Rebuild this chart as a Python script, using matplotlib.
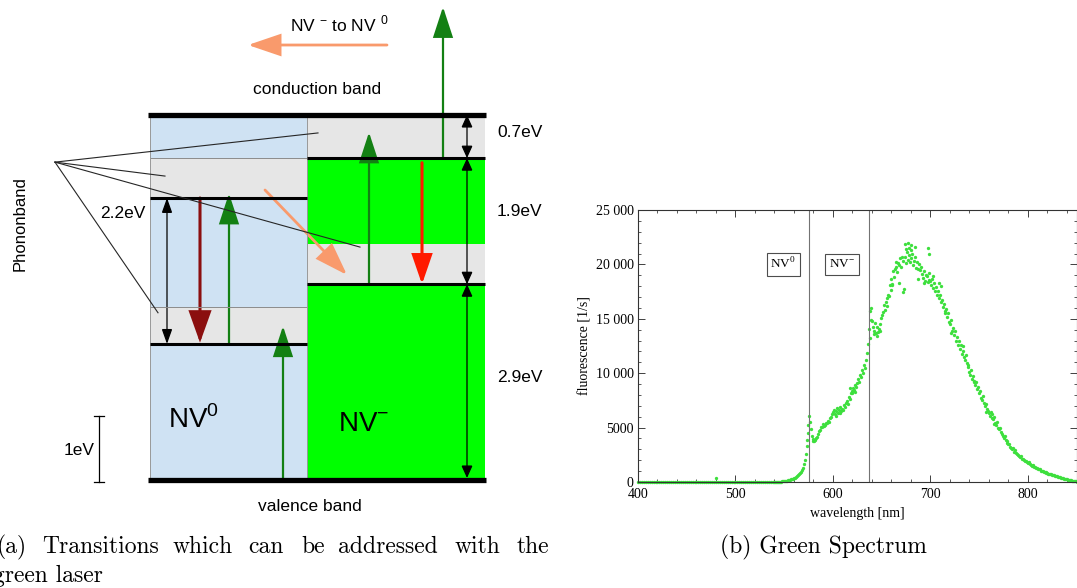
import numpy as np
import matplotlib
matplotlib.use("Agg")
import matplotlib.pyplot as plt
from matplotlib.patches import FancyArrowPatch
from matplotlib.ticker import MultipleLocator, FuncFormatter

plt.rcParams['font.family'] = ['Liberation Serif', 'DejaVu Serif']
plt.rcParams['mathtext.fontset'] = 'custom'
plt.rcParams['mathtext.rm'] = 'Liberation Serif'
plt.rcParams['mathtext.sf'] = 'Liberation Sans'

# ---------------- energy diagram data (eV above valence band) ----------------
e_vb, e_cb = 0.0, 5.5
nv0_ground, nv0_excited = 2.05, 4.25
nv0_phonon_tops = [2.6, 4.85]       # phonon bands above each NV0 level
nvm_ground, nvm_excited = 2.95, 4.85
nvm_phonon_tops = [3.55, 5.5]
gap_labels = ["0.7eV", "1.9eV", "2.9eV"]

# ---------------- spectrum data ----------------
base_wl = list(range(400, 540, 2))
base_counts = [0, 0, 0, 0, 0, 0, 0, 0, 0, 0,
               0, 0, 0, 0, 0, 0, 0, 0, 0, 0,
               0, 0, 0, 0, 0, 0, 0, 0, 0, 0,
               0, 0, 0, 0, 0, 0, 0, 0, 0, 0,
               0, 0, 0, 0, 0, 0, 0, 0, 0, 0,
               0, 0, 0, 0, 0, 0, 0, 0, 0, 0,
               0, 0, 0, 0, 0, 0, 0, 0, 0, 0]
spec_start = 540   # nm, 1 nm per value
counts = [
    0, 15, 5, 20, 10, 35, 25, 45, 50, 65,
    80, 100, 105, 135, 150, 175, 215, 235, 285, 305,
    350, 410, 460, 545, 600, 710, 790, 930, 1090, 1320,
    1620, 1980, 2550, 3300, 4500, 6050, 5550, 4900, 4250, 3950,
    3800, 3780, 3880, 4080, 4150, 4420, 4650, 4820, 5080, 5060,
    5320, 5180, 5260, 5450, 5380, 5620, 5560, 5900, 5980, 6250,
    6400, 6650, 6280, 6520, 6800, 6350, 6600, 6850, 6500, 6700,
    6650, 7050, 6900, 7250, 7400, 7150, 7850, 7600, 8150, 8350,
    8200, 8600, 8450, 8950, 8700, 9100, 9450, 9150, 9850, 9650,
    10250, 10050, 10750, 10450, 11250, 11900, 12700, 14100, 15700, 14900,
    14800, 14250, 13900, 14600, 13650, 14250, 13800, 14050, 14500, 15100,
    15350, 15600, 16250, 15800, 16500, 16950, 17200, 17050, 18150, 17650,
    18700, 18200, 19350, 18800, 19550, 20250, 19300, 20100, 19900, 20550,
    19800, 20700, 20300, 17700, 20650, 20100, 21100, 20400, 20850, 20250,
    20600, 21000, 19900, 20350, 20700, 19700, 20200, 19550, 20050, 19450,
    19800, 19100, 18750, 19400, 18500, 19050, 18900, 18350, 19200, 18600,
    18500, 18150, 18700, 17850, 18250, 17600, 17950, 17200, 17600, 16950,
    17200, 16500, 16750, 16050, 16350, 15500, 15900, 15200, 15500, 14750,
    14550, 14850, 13900, 14150, 13500, 13850, 13000, 13350, 12600, 12950,
    12200, 12550, 11750, 12050, 11500, 11250, 11700, 10900, 10550, 10750,
    10150, 9850, 10250, 9500, 9750, 9300, 8950, 9150, 8550, 8750,
    8150, 8350, 7750, 7550, 7900, 7250, 6950, 7200, 6700, 6550,
    6350, 6050, 6400, 5850, 5750, 6000, 5450, 5200, 5500, 4950,
    4850, 4950, 4550, 4400, 4250, 4050, 4200, 3850, 3750, 3600,
    3450, 3500, 3250, 3150, 3000, 3100, 2800, 2900, 2650, 2550,
    2500, 2400, 2300, 2350, 2150, 2100, 2050, 1950, 1900, 1850,
    1750, 1800, 1650, 1600, 1500, 1550, 1400, 1350, 1300, 1250,
    1200, 1150, 1150, 1050, 1050, 980, 960, 900, 880, 840,
    820, 780, 760, 720, 700, 650, 640, 600, 580, 540,
    520, 480, 460, 430, 400, 370, 350, 320, 300, 270,
    250, 220, 200, 180, 150, 130, 110, 90, 70, 55,
    40]
extra_wl = [480, 573.5, 574.5, 637.5, 638.5, 645, 655, 668, 672, 674, 674.5, 677,
            677.5, 680, 680.5, 684, 687, 693, 697, 699, 709, 711, 763, 765,
            603, 607, 617, 623, 642, 648, 661, 665, 703, 715, 721, 733, 745, 757]
extra_counts = [350, 3900, 5200, 13200, 16000, 13400, 16200, 18300, 17500, 21900,
                21400, 22000, 21500, 21800, 21300, 21600, 18700, 18300, 21500,
                21000, 18300, 18000, 6250, 5350,
                6100, 6300, 8600, 8300, 13600, 13900, 18100, 19800, 18900, 15700,
                13700, 12500, 9200, 6400]
zpl_lines = [575, 637]
box_labels = [(549, 20000, r'NV$^{\mathrm{0}}$'), (609, 20000, r'NV$^{\mathrm{-}}$')]

W, H = 1077, 588
fig = plt.figure(figsize=(W / 100, H / 100), dpi=100)

# ---------------- left: level scheme ----------------
px_per_ev = 66.36
ax = fig.add_axes([0, 0, 560 / W, 1])
ax.set_xlim(0, 560)
ax.set_ylim((480 - H) / px_per_ev, 480 / px_per_ev)
ax.axis('off')

blue, grey, bright = '#cfe2f3', '#e6e6e6', '#00ff00'
dgreen, dred, red, orange = '#138013', '#8b0f0f', '#ff1a00', '#f99a6c'
sans = ['Liberation Sans', 'DejaVu Sans']

x0l, x0r = 150, 307      # NV0 column
xmr = 485                # NV- column right edge

ax.fill_between([x0l, x0r], e_vb, e_cb, color=blue, lw=0)
for lo, hi in zip([nv0_ground, nv0_excited], nv0_phonon_tops):
    ax.fill_between([x0l, x0r], lo, hi, color=grey, lw=0)
    ax.plot([x0l, x0r], [hi, hi], color='0.55', lw=0.7)
ax.fill_between([x0r, xmr], e_vb, e_cb, color=bright, lw=0)
for lo, hi in zip([nvm_ground, nvm_excited], nvm_phonon_tops):
    ax.fill_between([x0r, xmr], lo, hi, color=grey, lw=0)
ax.plot([x0l, x0l], [e_vb, e_cb], color='0.6', lw=0.7)
ax.plot([x0r, x0r], [e_vb, e_cb], color='0.6', lw=0.7)

# levels
for e in [nv0_ground, nv0_excited]:
    ax.plot([x0l, x0r], [e, e], color='black', lw=2.2, solid_capstyle='butt')
for e in [nvm_ground, nvm_excited]:
    ax.plot([x0r, xmr], [e, e], color='black', lw=2.2, solid_capstyle='butt')
for e in [e_vb, e_cb]:
    ax.plot([148, 486], [e, e], color='black', lw=3.8, solid_capstyle='butt')


def arrow(xa, ya, xb, yb, color, lw, hl, hw, style='-|>'):
    ax.add_patch(FancyArrowPatch((xa, ya), (xb, yb),
                                 arrowstyle=f'{style},head_length={hl},head_width={hw}',
                                 mutation_scale=1, color=color, lw=lw,
                                 shrinkA=0, shrinkB=0, joinstyle='miter'))


# phonon band pointer lines
hub = (55, 4.79)
for tx, ty in [(318, 5.23), (165, 4.58), (360, 3.51), (158, 2.52)]:
    ax.plot([hub[0], tx], [hub[1], ty], color='0.15', lw=0.8)

# NV0 transitions
arrow(229, nv0_ground, 229, nv0_excited + 0.07, dgreen, 1.6, 19, 6.2)
arrow(283, e_vb, 283, nv0_ground + 0.27, dgreen, 1.6, 19, 6.2)
arrow(200, nv0_excited, 200, nv0_ground + 0.02, dred, 2.2, 19, 6.8)
arrow(167, nv0_ground, 167, nv0_excited, 'black', 0.9, 9, 3.2, '<|-|>')
# NV- transitions
arrow(369, nvm_ground, 369, nvm_excited + 0.39, dgreen, 1.6, 19, 6.2)
arrow(422, nvm_excited - 0.07, 422, nvm_ground, red, 2.2, 18, 6.2)
arrow(443, nvm_excited, 443, 7.13, dgreen, 1.6, 19, 6.2)
arrow(265, 4.37, 347, 3.09, orange, 2.0, 20, 6.8)
arrow(387, 6.555, 248, 6.555, orange, 2.0, 20, 6.8)
for lo, hi in [(nvm_excited, e_cb), (nvm_ground, nvm_excited), (e_vb + 0.03, nvm_ground)]:
    arrow(467, lo, 467, hi, 'black', 0.9, 7.5, 3.4, '<|-|>')

# 1 eV scale bar
ax.plot([99, 99], [-0.03, 0.97], color='black', lw=0.9)
for e in [-0.03, 0.97]:
    ax.plot([94, 104], [e, e], color='black', lw=0.9)

fs = 12.5
ax.text(339, 6.87, r'NV $^{\mathsf{-}}$ to NV $^{\mathsf{0}}$', family=sans, fontsize=fs,
        ha='center', va='center')
ax.text(317, 5.88, 'conduction band', family=sans, fontsize=fs, ha='center', va='center')
ax.text(310, -0.40, 'valence band', family=sans, fontsize=fs, ha='center', va='center')
for lab, e in zip(gap_labels, [5.23, 4.04, 1.55]):
    ax.text(497, e, lab, family=sans, fontsize=fs, ha='left', va='center')
ax.text(123, 4.02, '2.2eV', family=sans, fontsize=fs, ha='center', va='center')
ax.text(79, 0.45, '1eV', family=sans, fontsize=fs, ha='center', va='center')
ax.text(20, 3.86, 'Phononband', family=sans, fontsize=12, ha='center', va='center',
        rotation=90)
ax.text(168, 0.78, r'NV$^{\mathsf{0}}$', family=sans, fontsize=20, ha='left', va='baseline')
ax.text(338, 0.74, r'NV$^{\mathsf{-}}$', family=sans, fontsize=20, ha='left', va='baseline')

# ---------------- right: spectrum ----------------
axr = fig.add_axes([638 / W, 106 / H, 439 / W, 272 / H])
dot = '#3ddf3d'
wl = spec_start + np.arange(len(counts))
for xs, ys in [(base_wl, base_counts), (wl, counts), (extra_wl, extra_counts)]:
    axr.plot(xs, ys, ls='none', marker='o', ms=2.4, mew=0, color=dot, clip_on=False)
for z in zpl_lines:
    axr.axvline(z, color='0.45', lw=0.8)
for bx, by, lab in box_labels:
    axr.text(bx, by, lab, ha='center', va='center', fontsize=9.5,
             bbox=dict(boxstyle='square,pad=0.3', fc='white', ec='0.3', lw=0.8))

axr.set_xlim(400, 850.3)
axr.set_ylim(0, 25000)
for s in axr.spines.values():
    s.set_color('0.2')
    s.set_linewidth(0.8)
axr.xaxis.set_major_locator(MultipleLocator(100))
axr.xaxis.set_minor_locator(MultipleLocator(20))
axr.yaxis.set_major_locator(MultipleLocator(5000))
axr.yaxis.set_minor_locator(MultipleLocator(1000))
axr.yaxis.set_major_formatter(FuncFormatter(
    lambda v, _: f'{int(v) // 1000} {int(v) % 1000:03d}' if v >= 10000 else f'{int(v)}'))
axr.tick_params(which='both', direction='in', top=True, right=True,
                labelsize=10, color='0.25', pad=3)
axr.tick_params(axis='x', which='major', pad=4)
axr.tick_params(which='major', length=5, width=0.7)
axr.tick_params(which='minor', length=2.5, width=0.6)
axr.set_xlabel('wavelength [nm]', fontsize=10, labelpad=5)
axr.set_ylabel('fluorescence [1/s]', fontsize=10, labelpad=3)

# ---------------- captions ----------------
cap = dict(family='cmr10', fontsize=17, va='baseline', ha='left')
for word, x in zip(['(a)', 'Transitions', 'which', 'can', 'be', 'addressed', 'with', 'the'],
                   [-3, 42, 173, 248, 301, 338, 455, 517]):
    fig.text(x / W, 1 - 553 / H, word, **cap)
fig.text(-7 / W, 1 - 582 / H, 'green laser', **cap)
fig.text(823 / W, 1 - 553 / H, '(b) Green Spectrum', family='cmr10', fontsize=17,
         va='baseline', ha='center')

fig.savefig('out.png', dpi=100)
